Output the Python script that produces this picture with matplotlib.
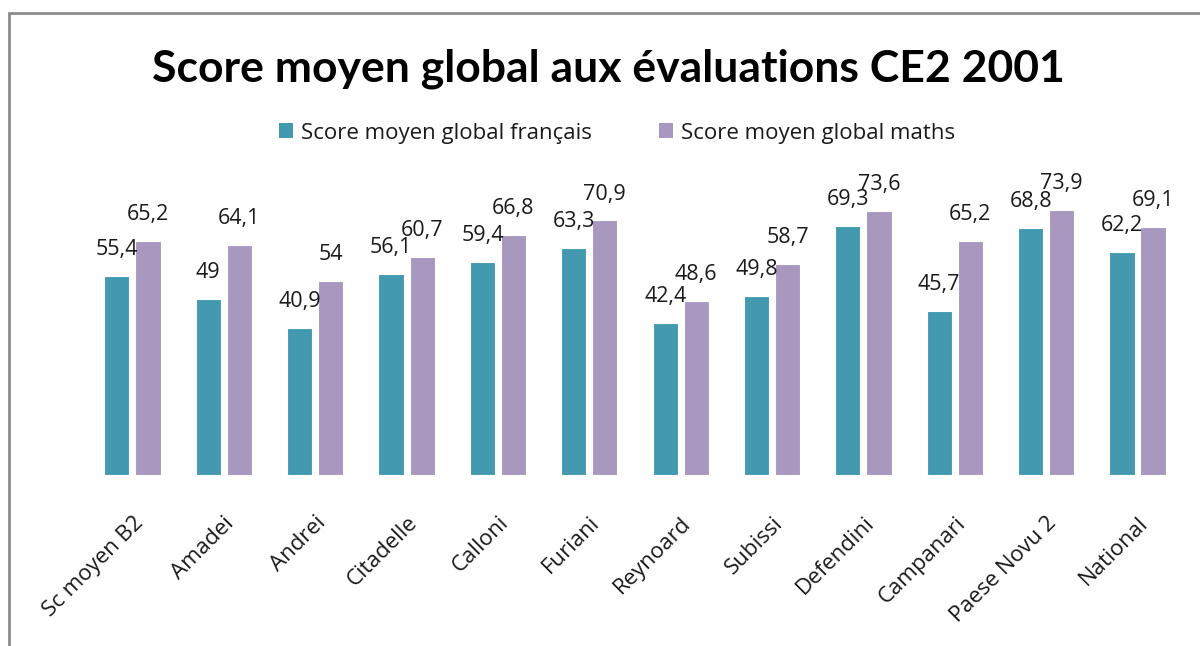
import matplotlib.pyplot as plt
from matplotlib.patches import Rectangle, Patch

# Data
categories = ["Sc moyen B2", "Amadei", "Andrei", "Citadelle", "Calloni", "Furiani",
              "Reynoard", "Subissi", "Defendini", "Campanari", "Paese Novu 2", "National"]
francais = [55.4, 49, 40.9, 56.1, 59.4, 63.3, 42.4, 49.8, 69.3, 45.7, 68.8, 62.2]
maths = [65.2, 64.1, 54, 60.7, 66.8, 70.9, 48.6, 58.7, 73.6, 65.2, 73.9, 69.1]
series_names = ["Score moyen global français", "Score moyen global maths"]

TEAL = "#4299B0"
PURPLE = "#A898BF"
TXT = "#1a1a1a"

plt.rcParams["font.family"] = ["Open Sans", "DejaVu Sans"]

fig = plt.figure(figsize=(12, 6.46), dpi=100)
fig.patch.set_facecolor("white")

# outer chart frame (left and top edges visible, rest cut off)
fig.add_artist(Rectangle((9 / 1200, -0.1), 1.2, (646 - 13) / 646 + 0.1,
                         transform=fig.transFigure, fill=False,
                         edgecolor="#8C8C8C", linewidth=2))

ax = fig.add_axes([0.0723, 0.2647, 0.9137, 0.4446])
ax.set_xlim(-0.5, len(categories) - 0.5)
ax.set_ylim(0, 80)

x = list(range(len(categories)))
off = 0.17
w = 0.275
b1 = ax.bar([i - off for i in x], francais, width=w, color=TEAL, edgecolor="white", linewidth=0.8)
b2 = ax.bar([i + off for i in x], maths, width=w, color=PURPLE, edgecolor="white", linewidth=0.8)


def fmt(v):
    return f"{v:g}".replace(".", ",")


for bars, vals in ((b1, francais), (b2, maths)):
    for rect, v in zip(bars, vals):
        ax.annotate(fmt(v), (rect.get_x() + rect.get_width() / 2, v),
                    xytext=(0, 19), textcoords="offset points",
                    ha="center", va="center", fontsize=15.5, color=TXT,
                    clip_on=False)

for s in ax.spines.values():
    s.set_visible(False)
ax.set_yticks([])
ax.set_xticks(x)
ax.set_xticklabels(categories, rotation=45, ha="right", rotation_mode="anchor",
                   fontsize=16, color=TXT)
ax.tick_params(axis="x", length=0, pad=27)

fig.text(0.507, 0.893, "Score moyen global aux évaluations CE2 2001",
         ha="center", va="center", fontsize=32, fontweight="bold", color="black",
         family=["Lato", "DejaVu Sans"])

handles = [Patch(facecolor=TEAL), Patch(facecolor=PURPLE)]
fig.legend(handles, series_names, loc="center", bbox_to_anchor=(0.514, 0.794),
           ncol=2, frameon=False, fontsize=16, handlelength=0.65, handleheight=0.65,
           handletextpad=0.35, columnspacing=3.0, labelcolor=TXT)

fig.savefig("out.png", dpi=100, facecolor="white")
